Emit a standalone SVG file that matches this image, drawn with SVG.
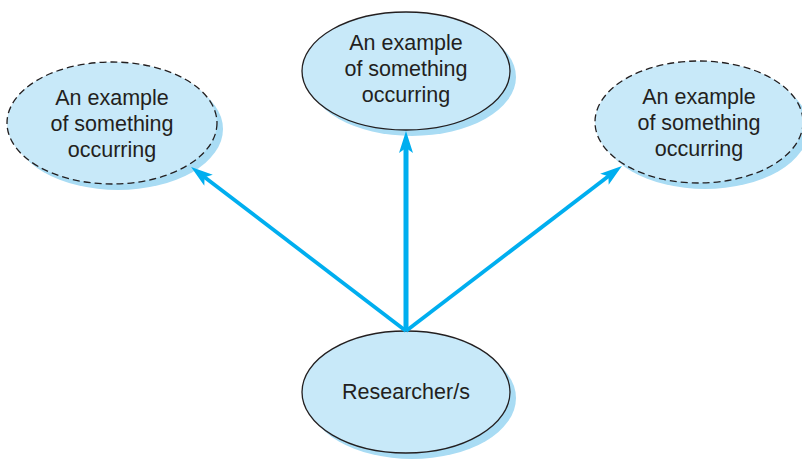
<svg xmlns="http://www.w3.org/2000/svg" width="802" height="459" viewBox="0 0 802 459">
<defs>
<style>
.shadow{fill:#a9dcf4;}
.node{fill:#c8e9f9;stroke:#231f20;stroke-width:1.3;}
.dashed{stroke-dasharray:7 4;}
.label{font-family:"Liberation Sans",Arial,sans-serif;font-size:21.5px;fill:#231f20;text-anchor:middle;}
.conn{stroke:#00aeef;stroke-width:3.8;fill:none;}
.main{stroke-width:5;}
</style>
<marker id="arrow" viewBox="0 0 22 14" refX="7" refY="7" markerWidth="22" markerHeight="14" markerUnits="userSpaceOnUse" orient="auto">
<path d="M0,0 L22,7 L0,14 L5,7 Z" fill="#00aeef"/>
</marker>
</defs>
<rect width="802" height="459" fill="#ffffff"/>
<g id="node-left">
<ellipse class="shadow" cx="118" cy="129" rx="105" ry="61"/>
<ellipse class="node dashed" cx="112" cy="123" rx="105" ry="61"/>
<text class="label" x="112" y="105">An example</text>
<text class="label" x="112" y="131">of something</text>
<text class="label" x="112" y="157">occurring</text>
</g>
<g id="node-top">
<ellipse class="shadow" cx="412" cy="77" rx="104" ry="59"/>
<ellipse class="node" cx="406" cy="71" rx="104" ry="59"/>
<text class="label" x="406" y="50">An example</text>
<text class="label" x="406" y="76">of something</text>
<text class="label" x="406" y="102">occurring</text>
</g>
<g id="node-right">
<ellipse class="shadow" cx="705" cy="128" rx="104" ry="61"/>
<ellipse class="node dashed" cx="699" cy="122" rx="104" ry="61"/>
<text class="label" x="699" y="104">An example</text>
<text class="label" x="699" y="130">of something</text>
<text class="label" x="699" y="156">occurring</text>
</g>
<g id="node-bottom">
<ellipse class="shadow" cx="412" cy="398" rx="104" ry="61"/>
<ellipse class="node" cx="406" cy="392" rx="104" ry="61"/>
<text class="label" x="406" y="399">Researcher/s</text>
</g>
<g id="connectors">
<line class="conn" x1="406" y1="331" x2="203" y2="176" marker-end="url(#arrow)"/>
<line class="conn main" x1="406" y1="331" x2="406" y2="146" marker-end="url(#arrow)"/>
<line class="conn" x1="406" y1="331" x2="610" y2="175" marker-end="url(#arrow)"/>
</g>
</svg>
